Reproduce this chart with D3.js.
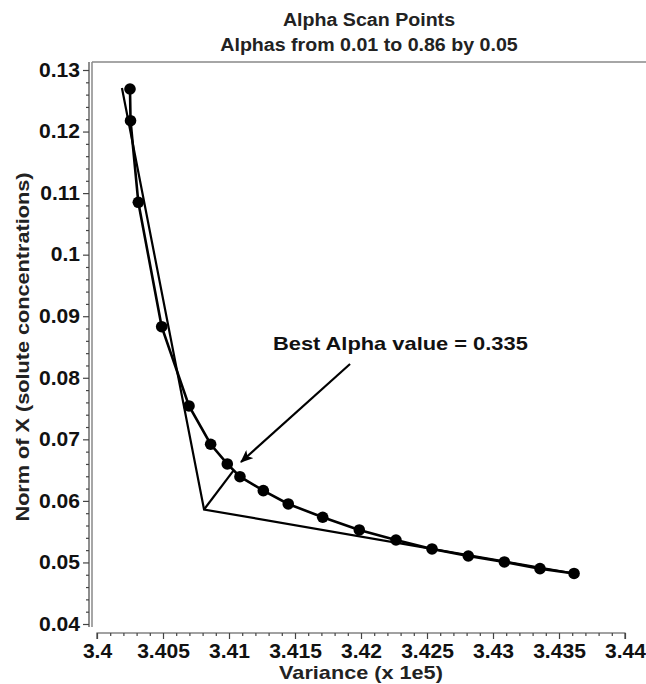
<!DOCTYPE html>
<html>
<head>
<meta charset="utf-8">
<script src="https://cdn.jsdelivr.net/npm/d3@7"></script>
<style>
  html, body { margin: 0; padding: 0; background: #fff; }
  svg { display: block; font-family: "Liberation Sans", Arial, sans-serif; }
</style>
</head>
<body>
<svg id="chart" width="646" height="684"></svg>
<script>
// ---- data ----
const titleLines = ["Alpha Scan Points", "Alphas from 0.01 to 0.86 by 0.05"];
const xLabel = "Variance (x 1e5)";
const yLabel = "Norm of X (solute concentrations)";
const alphas = [0.01,0.06,0.11,0.16,0.21,0.26,0.31,0.36,0.41,0.46,0.51,0.56,0.61,0.66,0.71,0.76,0.81,0.86];
const variance = [3.4025,3.40254,3.40313,3.4049,3.40697,3.40861,3.40987,3.41083,3.4126,3.41449,3.4171,3.41987,3.42265,3.42538,3.42813,3.43086,3.43356,3.43614];
const normX = [0.12691,0.12176,0.10851,0.0883,0.07542,0.0692,0.066,0.06393,0.06166,0.0595,0.05734,0.05528,0.05365,0.05219,0.05105,0.05008,0.04899,0.04821];
// corner construction (L-curve): start, corner, end
const cornerX = [3.40189, 3.40811, 3.43614];
const cornerY = [0.12708, 0.0586, 0.04821];
const bestAlpha = 0.335;
const bestPoint = [3.41035, 0.06497];
const arrowFrom = [3.41917, 0.08224];
const arrowTo = [3.41091, 0.06632];
const annotText = "Best Alpha value = 0.335";
const annotPos = [3.41333, 0.0845];
const xTicks = [3.4,3.405,3.41,3.415,3.42,3.425,3.43,3.435,3.44];
const xTickLabels = ["3.4","3.405","3.41","3.415","3.42","3.425","3.43","3.435","3.44"];
const yTicks = [0.04,0.05,0.06,0.07,0.08,0.09,0.1,0.11,0.12,0.13];
const yTickLabels = ["0.04","0.05","0.06","0.07","0.08","0.09","0.1","0.11","0.12","0.13"];

// ---- layout ----
const svg = d3.select("#chart");
const x = d3.scaleLinear().domain([3.4, 3.44]).range([97, 625]);
const y = d3.scaleLinear().domain([0.04, 0.13]).range([624, 70]);
const axisColor = "#444";

// stretch text horizontally to match the wide rendering of the reference
function stretch(sel, k) {
  sel.each(function () {
    const w = this.getComputedTextLength();
    d3.select(this).attr("textLength", w * k).attr("lengthAdjust", "spacingAndGlyphs");
  });
}

const xMinor = d3.range(0, 41).map(i => 3.4 + i * 0.001).filter((v, i) => i % 5 !== 0);
const yMinor = d3.range(0, 46).map(i => 0.04 + i * 0.002).filter((v, i) => i % 5 !== 0);

// frame: top line and left frame line
svg.append("line").attr("x1", 92).attr("x2", 646).attr("y1", 62).attr("y2", 62)
  .attr("stroke", "#888").attr("stroke-width", 1.5);
svg.append("line").attr("x1", 92).attr("x2", 92).attr("y1", 62).attr("y2", 627)
  .attr("stroke", "#888").attr("stroke-width", 1.5);

// y axis
const yAxisG = svg.append("g").attr("transform", "translate(89,0)");
yAxisG.call(d3.axisLeft(y).tickValues(yTicks).tickSize(6).tickPadding(3)
  .tickFormat((d, i) => yTickLabels[i]));
yAxisG.select(".domain").remove();
svg.append("line").attr("x1", 89).attr("x2", 89).attr("y1", 62).attr("y2", 627)
  .attr("stroke", axisColor).attr("stroke-width", 1.2);
svg.append("g").attr("transform", "translate(89,0)")
  .call(d3.axisLeft(y).tickValues(yMinor).tickSize(3).tickFormat(""))
  .select(".domain").remove();

// x axis
const xAxisG = svg.append("g").attr("transform", "translate(0,633)");
xAxisG.call(d3.axisBottom(x).tickValues(xTicks).tickSize(6).tickPadding(5)
  .tickFormat((d, i) => xTickLabels[i]));
xAxisG.select(".domain").attr("d", `M${x(3.4)},6V0H${x(3.44)}V6`);
svg.append("g").attr("transform", "translate(0,633)")
  .call(d3.axisBottom(x).tickValues(xMinor).tickSize(3).tickFormat(""))
  .select(".domain").remove();

svg.selectAll(".tick line").attr("stroke", axisColor).attr("stroke-width", 1.2);
svg.selectAll(".domain").attr("stroke", axisColor).attr("stroke-width", 1.2);
svg.selectAll(".tick text").attr("font-size", 19.5).attr("font-weight", "bold")
  .attr("fill", "#111").attr("font-family", "'Liberation Sans', Arial, sans-serif")
  .call(stretch, 1.08);

// titles
svg.append("text").attr("x", 369).attr("y", 26).attr("text-anchor", "middle")
  .attr("font-size", 17.5).attr("font-weight", "bold").attr("fill", "#222").text(titleLines[0])
  .call(stretch, 1.12);
svg.append("text").attr("x", 369).attr("y", 51).attr("text-anchor", "middle")
  .attr("font-size", 17.5).attr("font-weight", "bold").attr("fill", "#222").text(titleLines[1])
  .call(stretch, 1.12);

// axis labels
svg.append("text").attr("x", (x(3.4) + x(3.44)) / 2).attr("y", 679).attr("text-anchor", "middle")
  .attr("font-size", 19).attr("font-weight", "bold").attr("fill", "#222").text(xLabel)
  .call(stretch, 1.14);
svg.append("text").attr("transform", `translate(29,${(y(0.04) + y(0.13)) / 2}) rotate(-90)`)
  .attr("text-anchor", "middle").attr("font-size", 19).attr("font-weight", "bold")
  .attr("fill", "#222").text(yLabel)
  .call(stretch, 1.14);

// marks
const pts = variance.map((v, i) => [v, normX[i]]);
const line = d3.line().x(d => x(d[0])).y(d => y(d[1]));

const cornerPts = cornerX.map((v, i) => [v, cornerY[i]]);
svg.append("path").attr("d", line(cornerPts)).attr("fill", "none")
  .attr("stroke", "#000").attr("stroke-width", 2.2).attr("stroke-linejoin", "miter");
svg.append("path").attr("d", line([cornerPts[1], bestPoint])).attr("fill", "none")
  .attr("stroke", "#000").attr("stroke-width", 2.2);

svg.append("path").attr("d", line(pts)).attr("fill", "none")
  .attr("stroke", "#000").attr("stroke-width", 2.6);
svg.append("g").selectAll("circle").data(pts).join("circle")
  .attr("cx", d => x(d[0])).attr("cy", d => y(d[1])).attr("r", 5.8).attr("fill", "#000");

// arrow
svg.append("defs").append("marker").attr("id", "arrowhead")
  .attr("viewBox", "0 0 12 10").attr("refX", 11).attr("refY", 5)
  .attr("markerWidth", 13).attr("markerHeight", 11).attr("markerUnits", "userSpaceOnUse")
  .attr("orient", "auto")
  .append("path").attr("d", "M0,0 L12,5 L0,10 L3,5 Z").attr("fill", "#000");
svg.append("path").attr("d", line([arrowFrom, arrowTo])).attr("stroke", "#000")
  .attr("stroke-width", 2.2).attr("marker-end", "url(#arrowhead)");

// annotation
svg.append("text").attr("x", x(annotPos[0])).attr("y", y(annotPos[1]))
  .attr("font-size", 19).attr("font-weight", "bold").attr("fill", "#111").text(annotText)
  .call(stretch, 1.15);
</script>
</body>
</html>
